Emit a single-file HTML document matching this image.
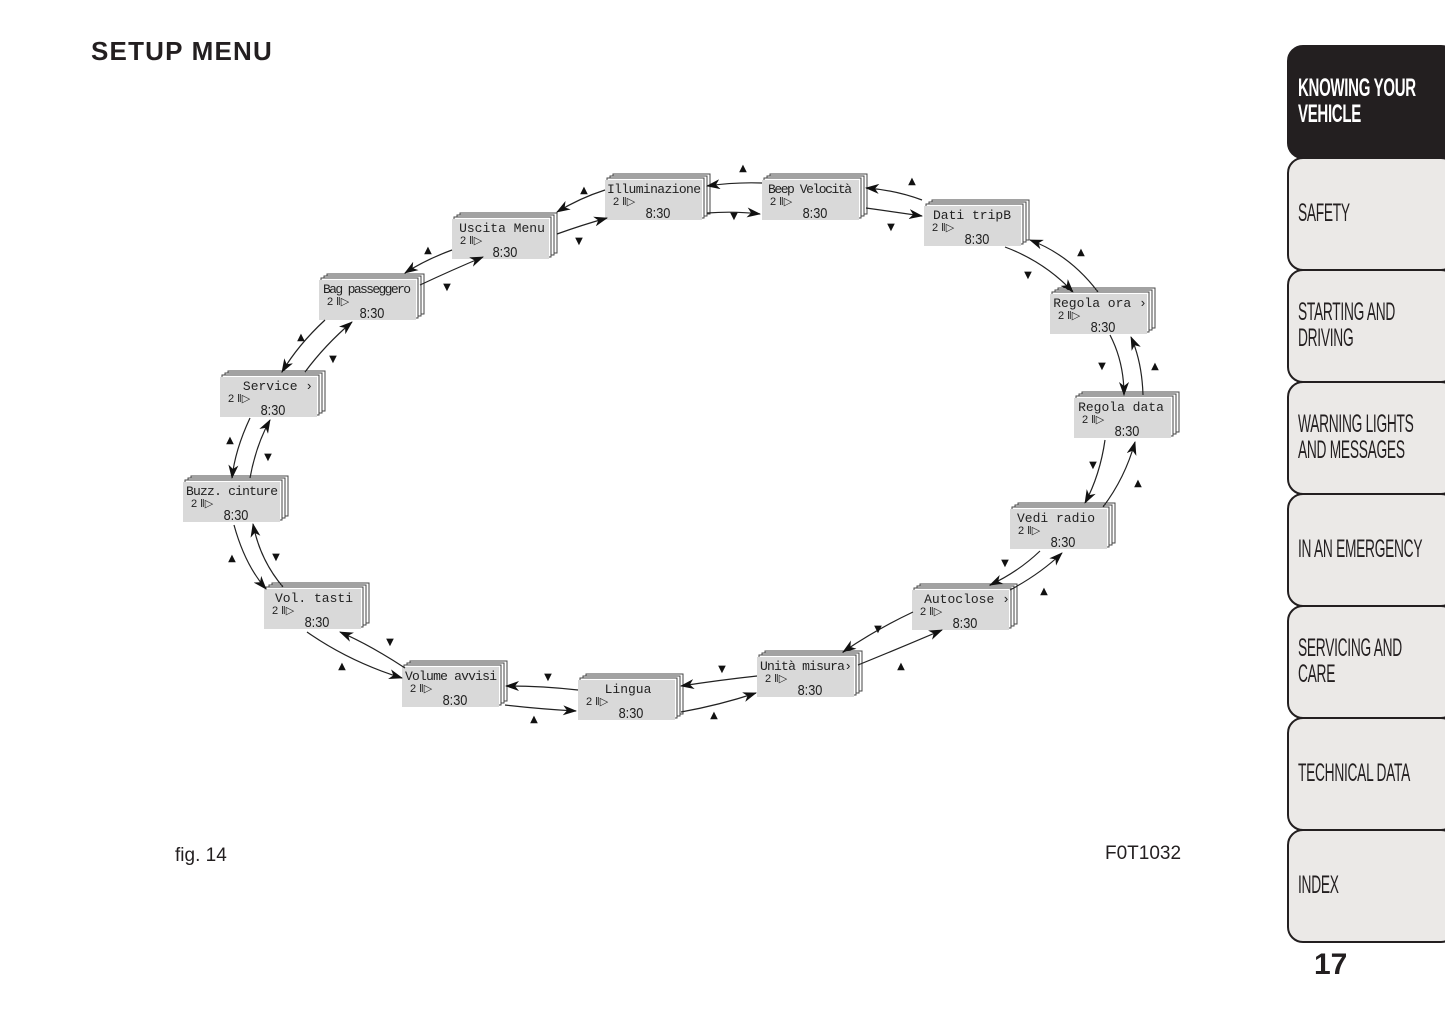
<!DOCTYPE html>
<html><head><meta charset="utf-8"><style>
body{margin:0;width:1445px;height:1026px;background:#fff;position:relative;overflow:hidden;font-family:"Liberation Sans",sans-serif}
.h{position:absolute;left:91px;top:36px;font-size:26px;font-weight:bold;letter-spacing:1.2px;color:#231f20}
.tab{position:absolute;left:1287px;width:170px;height:108px;border:2px solid #231f20;border-radius:16px;background:#ebe9e7;box-sizing:border-box}
.tab span{position:absolute;left:9px;display:block;font-size:25px;line-height:26px;color:#231f20;transform:scaleX(0.55);transform-origin:left center;white-space:nowrap;letter-spacing:-0.5px}
.tab.dk{background:#231f20}
.tab.dk span{color:#fff;font-weight:bold;transform:scaleX(0.6)}
.cap{position:absolute;font-size:19px;color:#231f20}
</style></head><body>
<div class="h">SETUP MENU</div>
<div class="tab dk" style="top:45px;height:114px"><span style="top:28px">KNOWING YOUR<br>VEHICLE</span></div>
<div class="tab" style="top:157px;height:114px"><span style="top:41px">SAFETY</span></div>
<div class="tab" style="top:269px;height:114px"><span style="top:28px">STARTING AND<br>DRIVING</span></div>
<div class="tab" style="top:381px;height:114px"><span style="top:28px">WARNING LIGHTS<br>AND MESSAGES</span></div>
<div class="tab" style="top:493px;height:114px"><span style="top:41px">IN AN EMERGENCY</span></div>
<div class="tab" style="top:605px;height:114px"><span style="top:28px">SERVICING AND<br>CARE</span></div>
<div class="tab" style="top:717px;height:114px"><span style="top:41px">TECHNICAL DATA</span></div>
<div class="tab" style="top:829px;height:114px"><span style="top:41px">INDEX</span></div>
<div class="cap" style="left:1314px;top:948px;font-size:30px;font-weight:bold">17</div>
<div class="cap" style="left:175px;top:845px">fig. 14</div>
<div class="cap" style="left:1105px;top:843px">F0T1032</div>
<svg width="1445" height="1026" style="position:absolute;left:0;top:0" xmlns="http://www.w3.org/2000/svg">
<defs>
<marker id="a" markerWidth="14" markerHeight="10" refX="13" refY="5" orient="auto" markerUnits="userSpaceOnUse"><path d="M0,0 L14,5 L0,10 L4,5 Z" fill="#111"/></marker>
<g id="bk"><rect x="8" y="-6" width="97" height="40" fill="#fff" stroke="#444"/><rect x="5" y="-4" width="97" height="40" fill="#fff" stroke="#444"/><rect x="2" y="-2" width="97" height="40" fill="#fff" stroke="#444"/><rect x="0" y="0" width="97" height="40" fill="#d9d9d9"/><text x="8" y="25" font-size="11" font-family="Liberation Sans" fill="#222" text-anchor="start">2 ‖▷</text><text x="53" y="38" font-size="15" font-family="Liberation Sans" fill="#222" text-anchor="middle" transform="translate(53,0) scale(0.85,1) translate(-53,0)">8:30</text></g>
</defs>
<g font-family="Liberation Mono,monospace" font-size="13" fill="#222" text-anchor="middle">
<g transform="translate(605,180)"><use href="#bk"/><text x="49" y="13" textLength="94">Illuminazione</text></g>
<g transform="translate(762,180)"><use href="#bk"/><text x="48" y="13" textLength="84">Beep Velocità</text></g>
<g transform="translate(924,206)"><use href="#bk"/><text x="48" y="13">Dati tripB</text></g>
<g transform="translate(1050,294)"><use href="#bk"/><text x="50" y="13">Regola ora ›</text></g>
<g transform="translate(1074,398)"><use href="#bk"/><text x="47" y="13">Regola data</text></g>
<g transform="translate(1010,509)"><use href="#bk"/><text x="46" y="13">Vedi radio</text></g>
<g transform="translate(912,590)"><use href="#bk"/><text x="55" y="13">Autoclose ›</text></g>
<g transform="translate(757,657)"><use href="#bk"/><text x="49" y="13" textLength="92">Unità misura›</text></g>
<g transform="translate(578,680)"><use href="#bk"/><text x="50" y="13">Lingua</text></g>
<g transform="translate(402,667)"><use href="#bk"/><text x="49" y="13" textLength="92">Volume avvisi</text></g>
<g transform="translate(264,589)"><use href="#bk"/><text x="50" y="13">Vol. tasti</text></g>
<g transform="translate(183,482)"><use href="#bk"/><text x="49" y="13" textLength="92">Buzz. cinture</text></g>
<g transform="translate(220,377)"><use href="#bk"/><text x="58" y="13">Service ›</text></g>
<g transform="translate(319,280)"><use href="#bk"/><text x="48" y="13" textLength="88">Bag passeggero</text></g>
<g transform="translate(452,219)"><use href="#bk"/><text x="50" y="13">Uscita Menu</text></g>
</g>
<g stroke="#222" stroke-width="1.2" fill="none" marker-end="url(#a)">
<path d="M762,183 Q735,182 707,186"/><path d="M707,213 Q735,211 760,214"/>
<path d="M922,200 Q895,190 866,188"/><path d="M866,208 Q895,212 922,216"/>
<path d="M1098,292 Q1070,255 1030,240"/><path d="M1005,247 Q1045,262 1073,292"/>
<path d="M1110,335 Q1124,362 1124,395"/><path d="M1143,395 Q1142,362 1131,337"/>
<path d="M1105,440 Q1100,475 1085,503"/><path d="M1103,507 Q1125,478 1135,442"/>
<path d="M1040,551 Q1018,572 990,585"/><path d="M1010,590 Q1040,574 1062,553"/>
<path d="M913,612 Q875,630 843,652"/><path d="M858,665 Q900,648 942,630"/>
<path d="M757,676 Q720,680 681,686"/><path d="M681,712 Q720,705 756,693"/>
<path d="M578,690 Q543,686 506,686"/><path d="M505,705 Q540,709 576,711"/>
<path d="M405,668 Q370,645 340,632"/><path d="M307,632 Q350,662 402,678"/>
<path d="M234,525 Q245,565 266,589"/><path d="M283,587 Q260,560 253,524"/>
<path d="M250,418 Q235,450 232,478"/><path d="M250,478 Q256,445 270,420"/>
<path d="M325,320 Q298,345 282,372"/><path d="M305,372 Q325,345 352,322"/>
<path d="M452,250 Q425,260 405,273"/><path d="M420,285 Q452,270 483,257"/>
<path d="M605,190 Q580,198 557,212"/><path d="M557,234 Q582,225 607,218"/>
</g>
<g fill="#111" font-size="10" text-anchor="middle" font-family="DejaVu Sans">
<text x="743" y="171">▲</text><text x="734" y="219">▼</text>
<text x="912" y="184">▲</text><text x="891" y="230">▼</text>
<text x="1081" y="255">▲</text><text x="1028" y="278">▼</text>
<text x="1102" y="369">▼</text><text x="1155" y="369">▲</text>
<text x="1093" y="468">▼</text><text x="1138" y="486">▲</text>
<text x="1005" y="566">▼</text><text x="1044" y="594">▲</text>
<text x="878" y="632">▼</text><text x="901" y="669">▲</text>
<text x="722" y="672">▼</text><text x="714" y="718">▲</text>
<text x="548" y="680">▼</text><text x="534" y="722">▲</text>
<text x="390" y="645">▼</text><text x="342" y="669">▲</text>
<text x="232" y="561">▲</text><text x="276" y="560">▼</text>
<text x="230" y="443">▲</text><text x="268" y="460">▼</text>
<text x="301" y="340">▲</text><text x="333" y="362">▼</text>
<text x="428" y="253">▲</text><text x="447" y="290">▼</text>
<text x="584" y="193">▲</text><text x="579" y="244">▼</text>
</g>
</svg>
</body></html>
